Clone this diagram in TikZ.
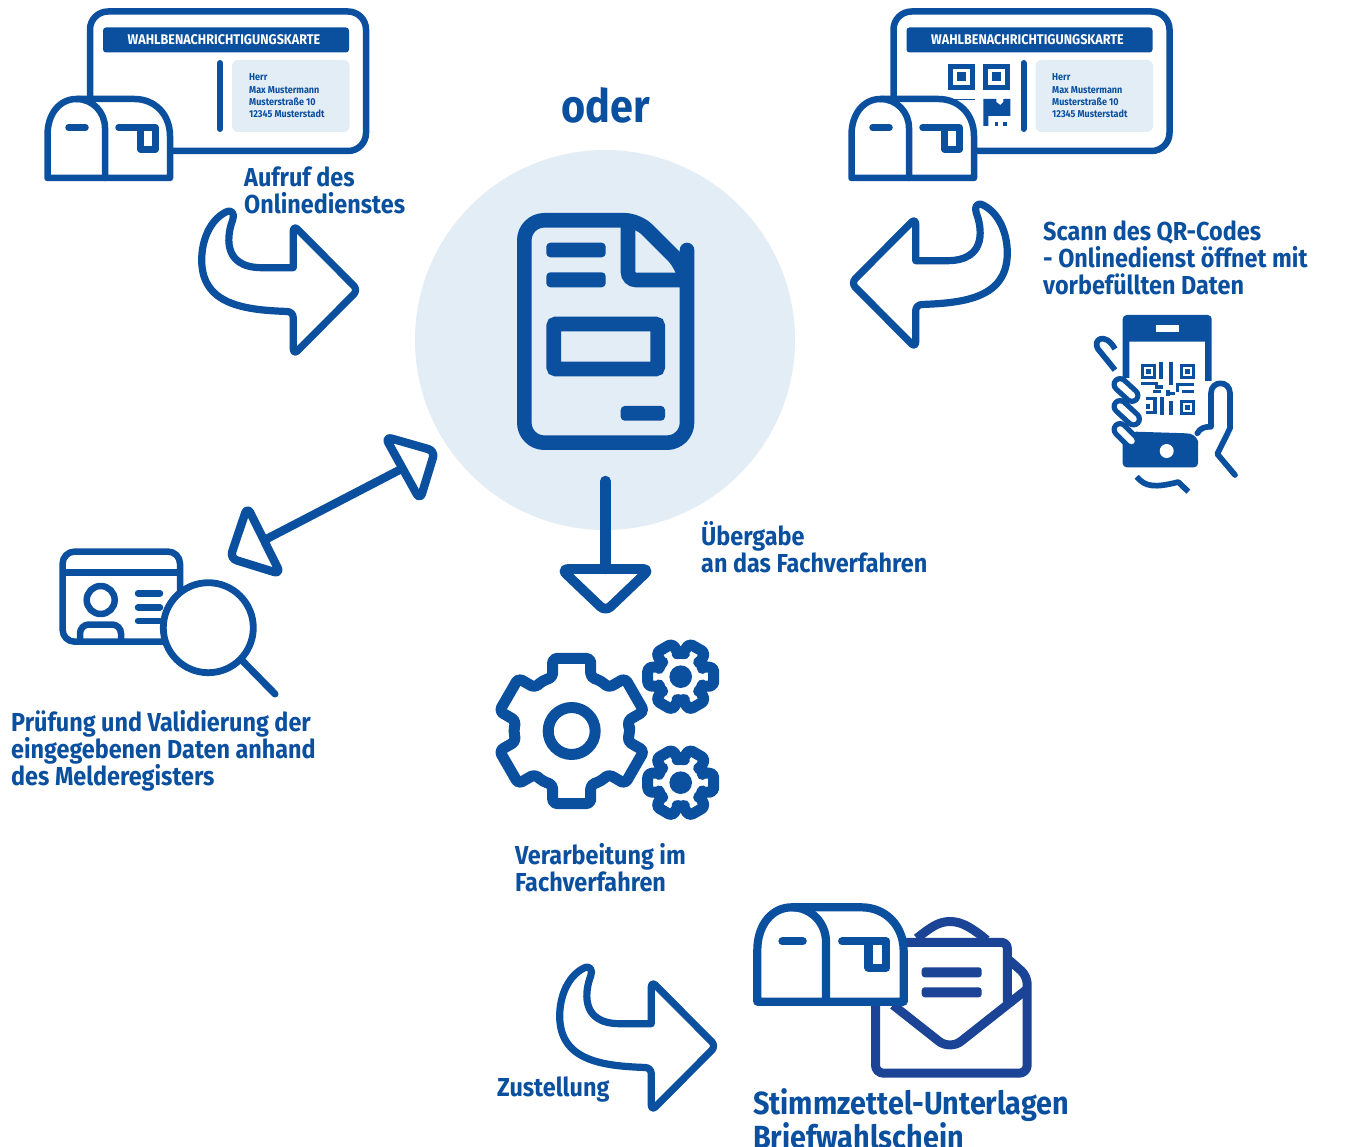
\documentclass[tikz,border=0pt]{standalone}
\usepackage{fontspec}
\setmainfont{Fira Sans}[FakeStretch=0.9]
\usetikzlibrary{calc}
\definecolor{bb}{HTML}{0B4F9F}
\definecolor{bdark}{HTML}{1B4396}
\definecolor{lite}{HTML}{E3EDF6}
\tikzset{
  ln/.style={draw=bb,line width=#1,line join=round,line cap=round},
  lab/.style={anchor=west,align=left,text=bb,inner sep=0pt,font=\bfseries\fontsize{#1}{27}\selectfont},
  barf/.style={fill=bb,rounded corners=#1},
  addr/.style={anchor=base west,text=bb,inner sep=0pt,font=\bfseries\fontsize{10}{12}\selectfont},
  hdr/.style={text=white,inner sep=0pt,font=\bfseries\fontsize{14}{16}\selectfont},
}
% mailbox: origin = top-left of centreline
\newcommand{\mailboxicon}[4]{%
\begin{scope}[shift={(#1,#2)},scale=#3]
 \draw[ln=#4,fill=white] (0,79) -- (0,36) .. controls (0,15) and (12,0) .. (29,0) -- (87,0)
   .. controls (107,0) and (122.5,15) .. (122.5,37) -- (122.5,79) -- cycle;
 \draw[ln=#4] (57.5,79) -- (57.5,29) .. controls (57.5,13) and (45,0) .. (29,0);
 \draw[ln=#4] (21,28.5) -- (38,28.5);
 \draw[ln=#4] (71,28.5) -- (108,28.5) -- (108,50.5) -- (93,50.5) -- (93,28.5);
\end{scope}}
% curved arrow, in the position of the first one
\newcommand{\curvedarrow}[1]{%
\draw[ln=7.2pt,#1] (293.3,267.7) [rounded corners=6pt] -- (293.3,225) -- (358,290) -- (293.3,355) -- (293.3,311.7) [sharp corners]
  .. controls (245,310) and (201.7,305) .. (201.7,260)
  .. controls (201.7,240) and (210,220) .. (226,212)
  .. controls (232,209) and (235,214) .. (232.7,220)
  .. controls (228,232) and (220,267.7) .. (262,267.7) -- cycle;}
\newcommand{\gearicon}[9]{% cx cy start Rbase angbase Rtip angtip lw rc
\begin{scope}[shift={(#1,#2)}]
 \draw[draw=bb,line width=#8,line join=round,rounded corners=#9]
  (#3-30:#4+1) \foreach \a in {0,60,...,300}{
   -- (#3+\a-#5:#4) -- (#3+\a-#7:#6) -- (#3+\a+#7:#6) -- (#3+\a+#5:#4) -- (#3+\a+30:#4+1)} -- cycle;
\end{scope}}
\newcommand{\cardicon}[1]{%
\begin{scope}[shift={(#1,0)}]
 \draw[ln=6.5pt,rounded corners=18pt] (90,11.5) rectangle (366,151);
 \path[barf=3pt] (103,27.5) rectangle (349,52.5);
 \path[fill=lite,rounded corners=6pt] (232,60) rectangle (349.5,132);
 \draw[ln=6pt] (220,63) -- (220,129);
\end{scope}}
\begin{document}
\begin{tikzpicture}[x=1pt,y=-1pt]
\useasboundingbox[fill=white] (0,0) rectangle (1347,1147);
\begin{scope}
\clip (0,0) rectangle (1347,1147);
% circle
\fill[lite] (605,340) circle[radius=190];
% document
\draw[ln=14.6pt,rounded corners=20pt] (524.3,220.3) -- (524.3,442.7) -- (687,442.7) -- (687,270) -- (687,269.5) [rounded corners=13pt] -- (637.8,220.3) [rounded corners=20pt] -- cycle;
\draw[draw=bb,line width=14.6pt,rounded corners=8pt] (628,220.3) -- (628,280) -- (687,280);
\path[barf=4pt] (546.3,242.7) rectangle (605.7,257.3);
\path[barf=4pt] (546.3,272.3) rectangle (605.7,287.3);
\draw[draw=bb,line width=14.6pt,rounded corners=2pt] (553.7,324) rectangle (657.7,369);
\path[barf=4pt] (620.7,406) rectangle (665,420.7);
% cards
\cardicon{0}
\cardicon{803.5}
% QR in card
\begin{scope}[shift={(948.3,64)}]
 \foreach \dx/\dy in {0/0,35/0}{
  \draw[draw=bb,line width=5pt] (\dx+2.5,\dy+2.5) rectangle (\dx+24,\dy+23.5);
  \fill[bb] (\dx+8.5,\dy+8.5) rectangle (\dx+18,\dy+17.5);}
 \fill[bb] (7,35) rectangle (26.5,36.5);
 \fill[bb] (35,35) -- (48,35) -- (48,38) -- (52,41) -- (55,38) -- (55,35) -- (62,35) -- (62,52) -- (40,52) -- (40,62) -- (35,62) -- cycle;
 \fill[bb] (46.5,58) rectangle (50,62);
 \fill[bb] (55,58) rectangle (58.5,62);
\end{scope}
% mailboxes
\mailboxicon{47.5}{99}{1}{6.5pt}
\mailboxicon{851.5}{99}{1}{6.5pt}
% card texts
\node[hdr] (t1) at (224,40) {WAHLBENACHRICHTIGUNGSKARTE};
\node[hdr] (t2) at (1027.5,40) {WAHLBENACHRICHTIGUNGSKARTE};
\foreach \n/\x in {a/249,b/1052}{
 \node[addr] (\n1) at (\x,81) {Herr};
 \node[addr] (\n2) at (\x,94) {Max Mustermann};
 \node[addr] (\n3) at (\x,106) {Musterstraße 10};
 \node[addr] (\n4) at (\x,118) {12345 Musterstadt};
}
% curved arrows
\curvedarrow{}
\curvedarrow{xscale=-1,xshift=-1209pt,yshift=7pt}
\curvedarrow{shift={(358,756)}}
% double arrow
\coordinate (da1) at (402.5,468.4);
\coordinate (da2) at (264,540.3);
\draw[draw=bb,line width=8.4pt] (da1) -- (da2);
\draw[ln=8.4pt,rounded corners=7pt] (385,436.7) -- (435,451) -- (420,500) -- cycle;
\draw[ln=8.4pt,rounded corners=7pt] (247.3,506.7) -- (230,558.3) -- (280.7,574) -- cycle;
% vertical arrow
\coordinate (va1) at (605.5,481);
\coordinate (va2) at (605.5,569);
\draw[ln=10.5pt] (va1) -- (va2);
\draw[ln=9.7pt,rounded corners=7pt] (561,569) -- (650,569) -- (605.5,611.5) -- cycle;
% phone
\fill[bb,rounded corners=4pt] (1129.3,378) [sharp corners] -- (1122.7,378) [rounded corners=4pt] -- (1122.7,315) -- (1211.7,315) [sharp corners] -- (1211.7,381) -- (1205,381) -- (1205,341.7) -- (1129.3,341.7) -- cycle;
\fill[bb,rounded corners=4pt] (1122.7,440) [sharp corners] -- (1136,431.7) -- (1186,433.3) .. controls (1192,433.3) and (1196,436) .. (1198,441) [rounded corners=4pt] -- (1198,467.3) -- (1122.7,467.3) -- cycle;
\fill[white] (1156,325) rectangle (1179,331.7);
\fill[white] (1166.7,451) circle[radius=7];
% thumb and hand
\draw[ln=5.7pt] (1197.3,433.3) .. controls (1200,428) and (1205,426.7) .. (1211,426.7) -- (1211,393.3) .. controls (1211,380) and (1230,380) .. (1230,393.3) -- (1230,428.3) -- (1217.3,454) -- (1235,475);
\draw[ln=5.7pt,line cap=butt] (1115,370) -- (1098,349) .. controls (1092,340) and (1105,331) .. (1115,349);
\draw[draw=bb,line width=5.7pt,line join=round] (1136.7,476.7) .. controls (1145,487) and (1155,488) .. (1178.3,482) -- (1188.3,491.7);
\foreach \xa/\ya/\xb/\yb in {1120/384.5/1132/395.5,1120/406.5/1133.5/419,1120/429.5/1131.5/441}{
 \draw[draw=bb,line width=17pt,line cap=round] (\xa,\ya) -- (\xb,\yb);
 \draw[draw=white,line width=6.5pt,line cap=round] (\xa,\ya) -- (\xb,\yb);
}
% QR in phone
\begin{scope}
 \foreach \dx/\dy in {1141/364,1180/364,1180/400}{
  \draw[draw=bb,line width=2.8pt] (\dx+1.4,\dy+1.4) rectangle (\dx+13.4,\dy+13.4);
  \fill[bb] (\dx+5,\dy+5) rectangle (\dx+9.8,\dy+9.8);}
 \fill[bb] (1159,362) rectangle (1162.5,379);
 \fill[bb] (1168.5,362) rectangle (1172.5,385);
 \fill[bb] (1141,382) rectangle (1158,385);
 \fill[bb] (1155,385) rectangle (1163,389);
 \fill[bb] (1176,383) rectangle (1194,386);
 \fill[bb] (1176,386) rectangle (1179,392);
 \fill[bb] (1153,390) rectangle (1161,393);
 \fill[bb] (1182,390) rectangle (1194,393);
 \fill[bb] (1166,390) rectangle (1169.5,396);
 \fill[bb] (1169.5,392) rectangle (1175,395);
 \fill[bb] (1146,397) rectangle (1156,400.5);
 \fill[bb] (1146,404) rectangle (1150,409);
 \fill[bb] (1153,397) rectangle (1156.5,412);
 \fill[bb] (1146,411) rectangle (1156.5,414);
 \fill[bb] (1160,397) rectangle (1163.5,415);
 \fill[bb] (1168.5,401) rectangle (1172.5,415);
\end{scope}
% id card and magnifier
\draw[ln=6.5pt,rounded corners=12pt] (62.6,551.6) rectangle (180,641.7);
\draw[draw=bb,line width=6.5pt] (62.6,572.3) -- (180,572.3);
\draw[ln=6.5pt] (100.7,600) circle[radius=14];
\draw[draw=bb,line width=6.5pt,rounded corners=9pt] (80,641) -- (80,624.5) -- (121,624.5) -- (121,641);
\foreach \y in {593.3,607.3,621}{\draw[ln=6.5pt] (138,\y) -- (160,\y);}
\draw[ln=6.8pt,fill=white] (208.3,627.7) circle[radius=45];
\draw[ln=7pt] (243.3,661.7) -- (275,694);
% gears
\gearicon{571.7}{731}{30}{57}{19.5}{75}{14.7}{11pt}{4pt}
\draw[ln=11pt] (571.7,731) circle[radius=23.5];
\foreach \cy in {676.7,782.7}{
 \gearicon{680.7}{\cy}{0}{23.5}{23.8}{34.3}{16}{11pt}{4pt}
 \fill[bb] (680.7,\cy) circle[radius=11.3];
}
% envelope
\begin{scope}[bdark]
\draw[draw=bdark,line width=9pt,line join=round,rounded corners=8pt] (875.5,1000) -- (875.5,1073.2) -- (1027.2,1073.2) -- (1027.2,976) -- (1009,960);
\draw[draw=bdark,line width=9pt,line join=round,rounded corners=6pt] (890,942.3) -- (1007.3,942.3) -- (1007.3,1002);
\draw[draw=bdark,line width=9pt,line join=round,rounded corners=14pt] (893,1005) -- (950,1050) -- (1027.2,989);
\draw[draw=bdark,line width=9pt,line join=round] (916.7,938.3) .. controls (930,928) and (938,921.5) .. (950,921.5) .. controls (962,921.5) and (972,928) .. (986.7,940);
\fill[bdark,rounded corners=3pt] (921.7,967.3) rectangle (981.7,977.3);
\fill[bdark,rounded corners=3pt] (921.7,987.3) rectangle (981.7,997.3);
\end{scope}
\mailboxicon{757.3}{907.3}{1.195}{8.2pt}
% labels
\node[lab=45,font=\bfseries\fontsize{46}{50}\selectfont] (oder) at (561,105) {oder};
\node[lab=26] (l1) at (244,190) {Aufruf des\\Onlinedienstes};
\node[lab=26] (l2) at (1043,258) {Scann des QR-Codes\\- Onlinedienst öffnet mit\\vorbefüllten Daten};
\node[lab=26] (l3) at (701,547) {Übergabe\\an das Fachverfahren};
\node[lab=26] (l4) at (11,751) {Prüfung und Validierung der\\eingegebenen Daten anhand\\des Melderegisters};
\node[lab=26] (l5) at (515,868) {Verarbeitung im\\Fachverfahren};
\node[lab=26] (l6) at (497,1090) {Zustellung};
\node[lab=32,font=\bfseries\fontsize{32}{32}\selectfont] (l7) at (753,1119) {Stimmzettel-Unterlagen\\Briefwahlschein};
\end{scope}
\end{tikzpicture}
\end{document}
